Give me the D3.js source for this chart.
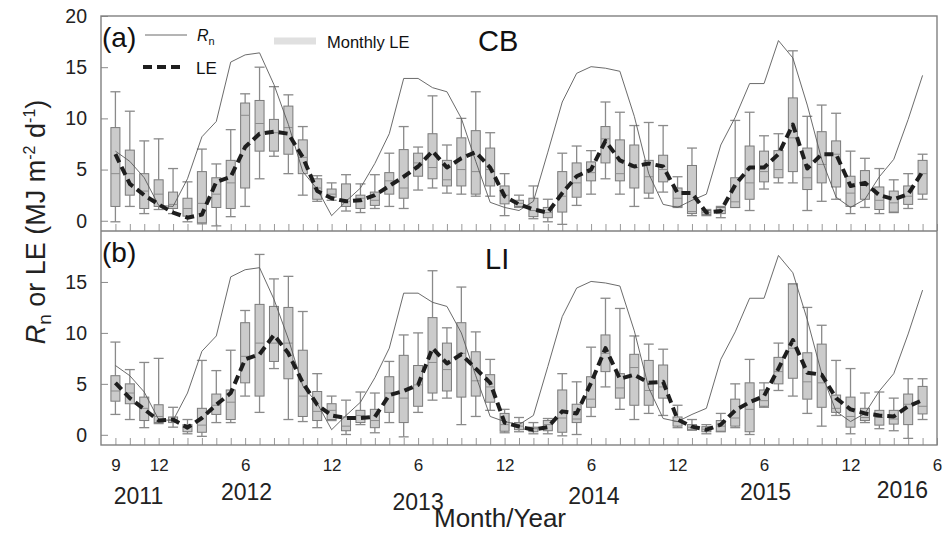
<!DOCTYPE html>
<html><head><meta charset="utf-8">
<script src="https://cdn.jsdelivr.net/npm/d3@7/dist/d3.min.js"></script>
<style>body{margin:0;background:#fff}svg{display:block;font-family:"Liberation Sans",Arial,Helvetica,sans-serif}</style>
</head><body><svg id="c" width="949" height="535"></svg>
<script>
// month index 0 = Sep 2011 ... 56 = May 2016
const monthIndex = d3.range(57);
const rn = [6.8,5.8,4.2,1.5,1.4,4.1,8.2,9.7,15.5,16.2,16.4,13.3,9.4,4.8,3.1,0.5,1.9,3.2,5.6,8.5,13.9,13.9,13.0,12.6,10.0,5.8,1.8,1.3,1.0,1.9,6.7,11.6,14.4,15.05,14.9,14.6,10.2,4.6,1.6,1.3,2.0,2.6,7.4,10.1,13.4,13.4,17.6,15.9,11.3,6.0,2.3,1.3,2.1,4.3,6.0,9.9,14.2];

const cbMean = [6.5,3.6,2.5,1.6,0.8,0.3,0.6,3.8,4.3,7.2,8.5,8.7,8.5,6.2,2.9,2.2,1.9,2.0,2.5,3.4,4.3,5.3,6.8,5.2,6.1,6.7,5.2,2.4,1.6,1.1,0.8,2.7,4.35,5.0,7.8,5.9,5.3,5.6,5.3,2.7,2.7,0.8,0.95,3.5,5.2,5.2,6.5,9.4,5.1,6.5,6.5,3.4,3.7,2.5,2.1,2.6,4.8];
const cbLow  = [-0.1,1.4,0.7,1.1,0.7,-0.1,-0.3,-0.5,0.4,1.4,4.1,6.3,4.6,2.5,1.9,2.0,0.95,0.8,1.2,1.4,1.2,3.0,3.2,2.7,2.6,2.4,2.4,0.5,1.3,0.2,-0.1,-0.35,1.5,2.6,4.1,2.6,1.4,2.2,2.8,1.3,0.5,0.5,0.3,1.3,1.0,3.1,3.7,3.7,1.0,1.9,2.1,0.7,1.3,0.7,0.8,1.2,2.1];
const cbQ1   = [1.4,2.5,1.2,1.4,1.2,0.45,-0.2,1.3,1.2,3.2,6.8,6.8,6.5,4.6,2.1,2.3,1.4,1.2,1.5,2.6,2.2,4.35,4.1,3.4,3.4,2.6,3.4,1.65,1.4,0.4,0.3,0.85,2.3,3.9,5.65,3.9,3.2,2.7,3.8,1.4,0.7,0.6,0.7,1.3,2.1,3.8,4.2,4.8,3.05,3.7,3.3,1.4,2.1,1.1,0.85,1.6,2.6];
const cbMed  = [4.6,4.6,2.9,2.6,1.6,1.2,1.7,2.6,3.7,10.3,9.5,8.6,9.1,6.2,3.2,2.6,1.9,2.2,2.0,3.9,3.2,5.65,5.2,4.0,5.0,4.8,5.0,2.5,1.7,1.0,0.8,2.4,3.7,4.7,8.0,4.6,5.2,4.3,5.0,2.2,0.9,0.8,1.0,1.85,3.7,4.8,5.0,8.1,4.2,5.5,6.5,2.7,3.5,2.0,1.75,2.4,4.6];
const cbQ3   = [9.1,6.9,4.6,4.0,2.8,2.2,4.8,4.2,5.9,11.5,11.75,9.9,11.2,7.9,4.1,3.1,3.6,2.5,2.8,4.7,6.95,6.6,8.5,5.9,8.1,8.8,7.1,3.4,2.0,2.2,1.3,4.8,5.65,5.75,9.2,7.9,7.4,5.9,6.4,3.2,5.4,1.0,1.3,4.2,7.3,6.8,6.85,12.0,7.1,8.7,7.8,4.35,4.9,3.3,2.9,3.4,5.9];
const cbHigh = [12.6,10.7,7.8,8.0,5.1,3.8,7.0,5.55,8.9,12.4,15.0,13.1,12.3,9.2,4.4,3.7,4.5,3.6,4.5,6.6,9.2,7.2,12.2,7.4,10.0,12.6,8.6,4.6,2.5,3.4,2.1,6.6,7.3,6.85,11.6,10.6,9.3,9.6,9.3,4.3,7.1,1.1,1.4,9.8,10.6,8.3,8.5,16.6,10.2,11.3,10.5,6.8,6.1,5.1,4.0,4.6,6.5];

const liMean = [5.1,3.6,2.5,1.4,1.5,0.7,1.65,2.95,4.1,7.4,7.9,9.8,8.0,5.1,2.95,1.9,1.65,1.65,1.75,3.9,4.3,4.9,8.5,7.0,7.9,6.5,5.1,1.2,0.8,0.5,0.75,2.3,2.1,5.1,8.5,5.5,5.9,5.1,5.2,1.5,0.8,0.5,1.0,2.4,3.2,3.8,6.5,9.3,6.1,5.9,3.6,2.5,2.1,1.9,1.8,2.8,3.4];
const liLow  = [2.0,1.5,0.7,1.1,0.75,0.1,-0.15,1.2,1.2,3.8,2.2,6.5,1.5,1.3,0.7,1.4,0.03,1.0,0.2,1.2,-0.2,2.2,3.4,3.6,1.0,1.8,2.4,0.2,0.3,0.1,0.1,-0.1,0.03,1.8,4.7,2.5,1.5,2.1,1.9,0.7,0.45,0.1,0.3,0.7,0.03,2.7,4.35,3.8,2.1,0.85,1.9,0.1,1.2,0.6,0.4,-0.35,1.5];
const liQ1   = [3.3,3.05,1.4,1.2,1.2,0.3,0.25,2.0,1.5,5.1,3.8,7.2,5.5,1.8,1.4,1.5,0.4,1.2,0.7,2.2,1.2,2.8,4.1,4.3,3.7,3.8,3.2,0.35,0.5,0.3,0.4,0.25,1.2,2.7,6.2,3.6,2.9,2.9,3.6,0.85,0.5,0.3,0.35,0.85,0.3,2.8,5.0,5.55,3.5,2.7,2.2,0.75,1.4,0.95,1.05,1.0,2.05];
const liMed  = [4.3,4.1,2.6,1.8,1.5,0.8,0.95,2.9,3.2,7.7,9.0,9.0,9.0,3.8,2.3,2.4,0.85,1.9,1.4,4.1,3.6,4.9,7.1,6.4,8.0,5.3,4.7,1.0,0.85,0.6,1.0,1.65,1.55,3.5,8.0,4.6,6.6,4.35,4.7,1.3,0.75,0.55,0.85,1.65,2.5,3.35,6.2,8.5,5.2,5.1,2.6,1.8,1.7,1.7,1.55,3.0,2.8];
const liQ3   = [5.8,5.0,3.7,2.95,1.75,1.0,2.6,4.0,4.4,11.0,12.8,12.6,12.5,8.3,4.25,3.05,1.75,2.4,2.5,5.7,7.8,6.8,11.5,9.0,11.0,8.15,5.9,2.1,1.2,0.75,1.4,4.4,3.0,5.7,9.8,6.0,7.9,7.3,6.85,1.75,1.0,0.8,1.4,3.5,5.1,4.4,7.6,14.8,8.05,8.9,3.9,3.7,2.6,2.4,2.4,4.0,4.75];
const liHigh = [9.1,6.4,7.1,7.5,2.7,1.5,7.3,6.3,8.3,12.2,17.7,15.3,15.55,12.1,6.0,3.8,3.4,4.2,4.1,7.2,9.8,10.0,16.1,10.5,14.5,10.1,7.4,2.5,1.7,1.2,1.6,6.0,5.2,8.6,13.4,12.4,9.7,8.9,8.4,2.9,1.5,1.0,2.1,5.0,7.4,5.1,9.0,14.8,12.5,10.75,7.3,6.5,4.1,4.2,3.6,5.5,5.5];

const monthTicks = [0,3,9,15,21,27,33,39,45,51,57];
const monthTickLabels = ["9","12","6","12","6","12","6","12","6","12","6"];
const yearLabels = ["2011","2012","2013","2014","2015","2016"];
const yearPos = [1.6,9.1,21.0,33.2,45.1,54.6];
const yearDy = [0,-4,6,0,-4,-6];
const yTicksA = [0,5,10,15,20];
const yTicksB = [0,5,10,15];

const svg = d3.select("#c");
const x = d3.scaleLinear().domain([-1,57]).range([101,937]);

const panels = [
  {top:16, bottom:231, mean:cbMean, low:cbLow, q1:cbQ1, med:cbMed, q3:cbQ3, high:cbHigh, tag:"(a)", site:"CB", siteX:478, siteY:51, ticks:yTicksA},
  {top:231, bottom:445, mean:liMean, low:liLow, q1:liQ1, med:liMed, q3:liQ3, high:liHigh, tag:"(b)", site:"LI", siteX:485, siteY:269, ticks:yTicksB}
];

const gray = "#8a8a8a";
panels.forEach(p => {
  const y = d3.scaleLinear().domain([-1,20]).range([p.bottom, p.top]);
  const g = svg.append("g");
  const ya = g.append("g").attr("transform",`translate(101,0)`)
    .call(d3.axisLeft(y).tickValues(p.ticks).tickSize(-7).tickPadding(14));
  ya.select(".domain").remove();
  ya.selectAll("line").attr("stroke",gray).attr("stroke-width",1);
  ya.selectAll("text").attr("font-size",19.5).attr("fill","#222");
  const xa = g.append("g").attr("transform",`translate(0,${p.bottom})`)
    .call(d3.axisBottom(x).tickValues(d3.range(58)).tickSize(-7).tickFormat(""));
  xa.select(".domain").remove();
  xa.selectAll("line").attr("stroke","#999").attr("stroke-width",1);

  const bw = 9, cw = 10;
  const bx = g.append("g");
  monthIndex.forEach(i => {
    const cx = x(i);
    bx.append("line").attr("x1",cx).attr("x2",cx).attr("y1",y(p.high[i])).attr("y2",y(p.q3[i])).attr("stroke",gray).attr("stroke-width",1.3);
    bx.append("line").attr("x1",cx).attr("x2",cx).attr("y1",y(p.q1[i])).attr("y2",y(p.low[i])).attr("stroke",gray).attr("stroke-width",1.3);
    bx.append("line").attr("x1",cx-cw/2).attr("x2",cx+cw/2).attr("y1",y(p.high[i])).attr("y2",y(p.high[i])).attr("stroke",gray).attr("stroke-width",1.3);
    bx.append("line").attr("x1",cx-cw/2).attr("x2",cx+cw/2).attr("y1",y(p.low[i])).attr("y2",y(p.low[i])).attr("stroke",gray).attr("stroke-width",1.3);
    bx.append("rect").attr("x",cx-bw/2).attr("width",bw)
      .attr("y",y(p.q3[i])).attr("height",Math.max(1,y(p.q1[i])-y(p.q3[i])))
      .attr("fill","#cbcbcb").attr("stroke","#7a7a7a").attr("stroke-width",1);
    bx.append("line").attr("x1",cx-bw/2).attr("x2",cx+bw/2).attr("y1",y(p.med[i])).attr("y2",y(p.med[i])).attr("stroke","#8c8c8c").attr("stroke-width",1);
  });

  g.append("path").datum(rn)
    .attr("d", d3.line().x((d,i)=>x(i)).y(d=>y(d)))
    .attr("fill","none").attr("stroke","#5a5a5a").attr("stroke-width",0.9);
  g.append("path").datum(p.mean)
    .attr("d", d3.line().x((d,i)=>x(i)).y(d=>y(d)))
    .attr("fill","none").attr("stroke","#1e1e1e").attr("stroke-width",4)
    .attr("stroke-dasharray","9,5").attr("stroke-linejoin","round");

  g.append("text").attr("x",102).attr("y",p.top+31).attr("font-size",28).attr("fill","#111").text(p.tag);
  g.append("text").attr("x",p.siteX).attr("y",p.siteY).attr("font-size",29).attr("fill","#111").text(p.site);
});

svg.append("rect").attr("x",101).attr("y",16).attr("width",836).attr("height",429)
  .attr("fill","none").attr("stroke","#808080").attr("stroke-width",1.4);
svg.append("line").attr("x1",101).attr("x2",937).attr("y1",231).attr("y2",231)
  .attr("stroke","#808080").attr("stroke-width",1.4);

const lg = svg.append("g");
lg.append("line").attr("x1",145).attr("x2",187).attr("y1",35).attr("y2",35).attr("stroke","#5a5a5a").attr("stroke-width",0.9);
const rt = lg.append("text").attr("x",197).attr("y",41).attr("font-size",16).attr("fill","#111");
rt.append("tspan").attr("font-style","italic").text("R");
rt.append("tspan").attr("font-size",11).attr("dy",4).text("n");
lg.append("line").attr("x1",274).attr("x2",316).attr("y1",41).attr("y2",41).attr("stroke","#e0e0e0").attr("stroke-width",7);
lg.append("text").attr("x",327).attr("y",48).attr("font-size",16.5).attr("fill","#111").text("Monthly LE");
lg.append("line").attr("x1",143).attr("x2",182).attr("y1",67).attr("y2",67).attr("stroke","#1e1e1e").attr("stroke-width",4).attr("stroke-dasharray","9,5");
lg.append("text").attr("x",196).attr("y",74).attr("font-size",17).attr("fill","#111").text("LE");

const xl = svg.append("g").attr("transform","translate(0,445)")
  .call(d3.axisBottom(x).tickValues(monthTicks).tickSize(0).tickPadding(14).tickFormat((d,i)=>monthTickLabels[i]));
xl.select(".domain").remove();
xl.selectAll("text").attr("font-size",17).attr("fill","#222");

svg.append("g").selectAll("text").data(yearLabels).join("text")
  .attr("x",(d,i)=>x(yearPos[i])).attr("y",(d,i)=>504+yearDy[i])
  .attr("text-anchor","middle").attr("font-size",23).attr("fill","#222").text(d=>d);

svg.append("text").attr("x",500).attr("y",527).attr("text-anchor","middle").attr("font-size",26).attr("fill","#222").text("Month/Year");

const yt = svg.append("text").attr("transform","translate(45,222) rotate(-90)").attr("text-anchor","middle").attr("font-size",27).attr("fill","#222");
yt.append("tspan").attr("font-style","italic").text("R");
yt.append("tspan").attr("font-size",19).attr("dy",6).text("n");
yt.append("tspan").attr("dy",-6).text(" or LE (MJ m");
yt.append("tspan").attr("font-size",16).attr("dy",-10).text("-2");
yt.append("tspan").attr("dy",10).text(" d");
yt.append("tspan").attr("font-size",16).attr("dy",-10).text("-1");
yt.append("tspan").attr("dy",10).text(")");
</script></body></html>
